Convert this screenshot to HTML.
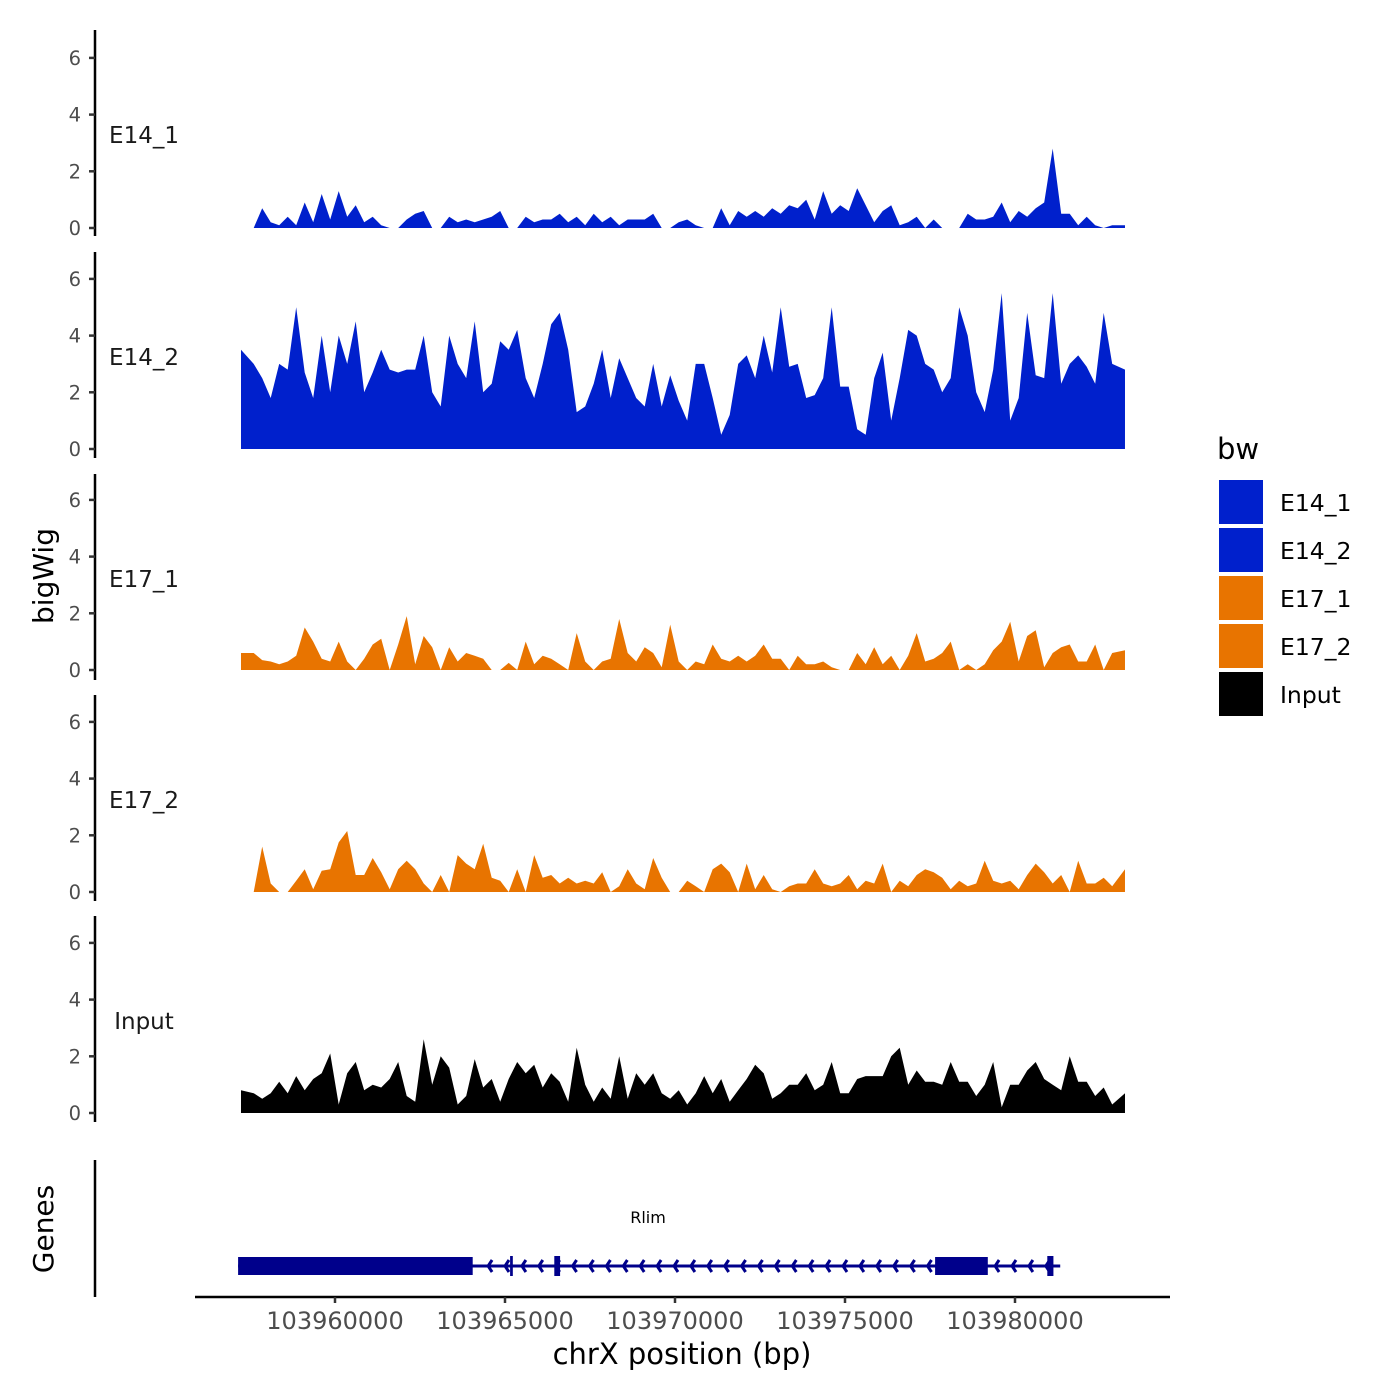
<!DOCTYPE html>
<html><head><meta charset="utf-8"><style>
html,body{margin:0;padding:0;background:#fff;}
svg{display:block;font-family:"DejaVu Sans","Liberation Sans",sans-serif;}
</style></head><body>
<svg id="chart" width="1400" height="1400" viewBox="0 0 1400 1400"></svg>
<script>
// genomic bins: 250 bp, starting at 103957235
const binStart = 103957235;
const binSize = 250;
const trackNames = ["E14_1","E14_2","E17_1","E17_2","Input"];
const yTicks = [0,2,4,6];
const xTicks = [103960000,103965000,103970000,103975000,103980000];
const e14_1 = [0,0,0.7,0.2,0.1,0.4,0.1,0.9,0.2,1.2,0.3,1.3,0.4,0.8,0.2,0.4,0.1,0,0,0.3,0.5,0.6,0,0,0.4,0.2,0.3,0.2,0.3,0.4,0.6,0,0,0.4,0.2,0.3,0.3,0.5,0.2,0.4,0.1,0.5,0.2,0.4,0.1,0.3,0.3,0.3,0.5,0,0,0.2,0.3,0.1,0,0,0.7,0.1,0.6,0.4,0.6,0.4,0.7,0.5,0.8,0.7,1.0,0.3,1.3,0.5,0.8,0.6,1.4,0.8,0.2,0.6,0.8,0.1,0.2,0.4,0,0.3,0,0,0,0.5,0.3,0.3,0.4,0.9,0.2,0.6,0.4,0.7,0.9,2.8,0.5,0.5,0.1,0.4,0.1,0,0.1,0.1];
const e14_2 = [3.5,3.0,2.5,1.8,3.0,2.8,5.0,2.7,1.8,4.0,2.0,4.0,3.0,4.5,2.0,2.7,3.5,2.8,2.7,2.8,2.8,4.0,2.0,1.5,4.0,3.0,2.5,4.5,2.0,2.3,3.8,3.5,4.2,2.5,1.8,3.0,4.4,4.8,3.5,1.3,1.5,2.3,3.5,1.8,3.2,2.5,1.8,1.5,3.0,1.5,2.6,1.7,1.0,3.0,3.0,1.8,0.5,1.2,3.0,3.3,2.5,4.0,2.7,5.0,2.9,3.0,1.8,1.9,2.5,5.0,2.2,2.2,0.7,0.5,2.5,3.4,1.0,2.5,4.2,4.0,3.0,2.8,2.0,2.5,5.0,4.0,2.0,1.3,2.8,5.5,1.0,1.8,4.8,2.6,2.5,5.5,2.3,3.0,3.3,2.9,2.3,4.8,3.0,2.8];
const e17_1 = [0.6,0.6,0.35,0.3,0.2,0.3,0.5,1.5,1.0,0.4,0.3,1.0,0.3,0,0.4,0.9,1.1,0,0.9,1.9,0.2,1.2,0.8,0,0.8,0.3,0.6,0.5,0.4,0,0,0.25,0,1.0,0.2,0.5,0.4,0.2,0,1.3,0.3,0,0.3,0.4,1.8,0.6,0.3,0.8,0.6,0.1,1.6,0.3,0,0.3,0.2,0.9,0.4,0.3,0.5,0.3,0.5,0.9,0.4,0.4,0,0.5,0.2,0.2,0.3,0.1,0,0,0.6,0.2,0.8,0.2,0.5,0,0.5,1.3,0.3,0.4,0.6,1.0,0,0.2,0,0.2,0.7,1.0,1.7,0.3,1.2,1.4,0.1,0.6,0.8,0.9,0.3,0.3,0.9,0,0.6,0.7];
const e17_2 = [0,0,1.6,0.3,0,0,0.4,0.8,0.1,0.75,0.8,1.75,2.15,0.6,0.6,1.2,0.7,0.1,0.8,1.1,0.8,0.3,0,0.6,0,1.3,1.0,0.8,1.7,0.5,0.4,0,0.8,0,1.3,0.5,0.6,0.3,0.5,0.3,0.4,0.3,0.7,0,0.2,0.8,0.3,0.1,1.2,0.5,0,0,0.4,0.2,0,0.8,1.0,0.7,0,1.0,0.1,0.6,0.1,0,0.2,0.3,0.3,0.8,0.3,0.2,0.3,0.6,0.1,0.4,0.3,1.0,0,0.4,0.2,0.6,0.8,0.7,0.5,0.1,0.4,0.2,0.3,1.1,0.4,0.3,0.4,0.1,0.6,1.0,0.7,0.3,0.6,0,1.1,0.3,0.3,0.5,0.2,0.8];
const input = [0.8,0.7,0.5,0.7,1.1,0.7,1.3,0.8,1.2,1.4,2.1,0.3,1.4,1.8,0.8,1.0,0.9,1.2,1.8,0.6,0.4,2.6,1.0,2.0,1.6,0.3,0.6,1.9,0.9,1.2,0.4,1.2,1.8,1.4,1.7,0.9,1.4,1.1,0.4,2.3,1.0,0.4,0.9,0.5,2.0,0.5,1.4,1.0,1.4,0.7,0.5,0.8,0.3,0.7,1.3,0.7,1.2,0.4,0.8,1.2,1.7,1.4,0.5,0.7,1.0,1.0,1.4,0.8,1.0,1.8,0.7,0.7,1.2,1.3,1.3,1.3,2.0,2.3,1.0,1.5,1.1,1.1,1.0,1.8,1.1,1.1,0.6,1.0,1.8,0.2,1.0,1.0,1.5,1.8,1.2,1.0,0.8,2.0,1.1,1.1,0.6,0.9,0.3,0.7];
const trackValues = [e14_1,e14_2,e17_1,e17_2,input];
const trackColors = ["#0020CC","#0020CC","#E87400","#E87400","#000000"];
// gene model (bp)
const geneStart = 103957150, geneEnd = 103981330;
const exonStarts = [103957150,103965150,103966450,103977650,103980950];
const exonEnds   = [103964050,103965230,103966620,103979200,103981130];

const svg = document.getElementById('chart');
const NS = 'http://www.w3.org/2000/svg';
function mk(tag, attrs, parent){ const e=document.createElementNS(NS,tag); for(const k in attrs) e.setAttribute(k,attrs[k]); (parent||svg).appendChild(e); return e; }
const xS = bp => 335 + (bp - 103960000) * 0.034;
const zeroY = [228,449,670,892,1113];
const unit = 28.35;
const axTop = [30,252,474,695,916];

trackNames.forEach((name, t) => {
  const g = mk('g', {});
  
  
  const vals = trackValues[t];
  const y0 = zeroY[t];
  let d = 'M' + xS(binStart) + ',' + y0;
  vals.forEach((v, i) => {
    let bp = binStart + binSize * (i + 0.5);
    if (i === 0) bp = binStart;
    if (i === vals.length - 1) bp = binStart + binSize * vals.length;
    d += ' L' + xS(bp).toFixed(1) + ',' + (y0 - v * unit).toFixed(1);
  });
  d += ' L' + xS(binStart + binSize * vals.length) + ',' + y0 + ' Z';
  const area = mk('path', {d: d, fill: trackColors[t], stroke: 'none'}, g);
  
  
  const ax = mk('line', {x1:95, x2:95, y1:axTop[t], y2:axTop[t]+206, stroke:'#000', 'stroke-width':2.5}, g);
  
  
  yTicks.forEach(tv => {
    const y = y0 - tv * unit;
    mk('line', {x1:89, x2:95, y1:y, y2:y, stroke:'#333', 'stroke-width':2.5}, g);
    const tl = mk('text', {x:81, y:y+7, 'text-anchor':'end', 'font-size':19.5, fill:'#4d4d4d'}, g);
    tl.textContent = tv;
    
    
  });
  const lab = mk('text', {x:144, y:axTop[t]+113, 'text-anchor':'middle', 'font-size':23, fill:'#1a1a1a'}, g);
  lab.textContent = name;
  
  
});

// y titles
const yt = mk('text', {x:0, y:0, transform:'translate(53,576) rotate(-90)', 'text-anchor':'middle', 'font-size':28, fill:'#000'});
yt.textContent = 'bigWig';


const gt = mk('text', {x:0, y:0, transform:'translate(53,1229) rotate(-90)', 'text-anchor':'middle', 'font-size':28, fill:'#000'});
gt.textContent = 'Genes';



// genes panel
const gax = mk('line', {x1:95, x2:95, y1:1160, y2:1297, stroke:'#000', 'stroke-width':2.5});


const gg = mk('g', {});


mk('line', {x1:xS(geneStart), x2:xS(geneEnd), y1:1266, y2:1266, stroke:'#00008B', 'stroke-width':3}, gg);
for (let x = xS(geneStart) + 250; x < xS(geneEnd) - 4; x += 16.9) {
  mk('polyline', {points:(x+4)+',1260 '+x+',1266 '+(x+4)+',1272', fill:'none', stroke:'#00008B', 'stroke-width':3}, gg);
}
exonStarts.forEach((s, i) => {
  const w = xS(exonEnds[i]) - xS(s);
  const big = w > 20;
  const r = mk('rect', {x:xS(s), y:big?1257:1256, width:w, height:big?18:20, fill:'#00008B'}, gg);
  
  
});
const gl = mk('text', {x:648, y:1223, 'text-anchor':'middle', 'font-size':16, fill:'#000'}, gg);
gl.textContent = 'Rlim';



// x axis
const xa = mk('line', {x1:195, x2:1170, y1:1297, y2:1297, stroke:'#000', 'stroke-width':2.5});


xTicks.forEach(v => {
  mk('line', {x1:xS(v), x2:xS(v), y1:1297, y2:1303, stroke:'#333', 'stroke-width':2.5});
  const t = mk('text', {x:xS(v), y:1329, 'text-anchor':'middle', 'font-size':24, fill:'#4d4d4d'});
  t.textContent = v;
  
  
});
const xt = mk('text', {x:682, y:1364, 'text-anchor':'middle', 'font-size':29, fill:'#000'});
xt.textContent = 'chrX position (bp)';



// legend
const lg = mk('g', {});


const lt = mk('text', {x:1217, y:459, 'font-size':29, fill:'#000'}, lg);
lt.textContent = 'bw';


trackNames.forEach((n, i) => {
  const e = mk('g', {}, lg);
  
  
  mk('rect', {x:1219, y:480+48*i, width:44, height:44, fill:trackColors[i]}, e);
  const t = mk('text', {x:1280, y:511+48*i, 'font-size':23.5, fill:'#000'}, e);
  t.textContent = n;
});
</script>
</body></html>
